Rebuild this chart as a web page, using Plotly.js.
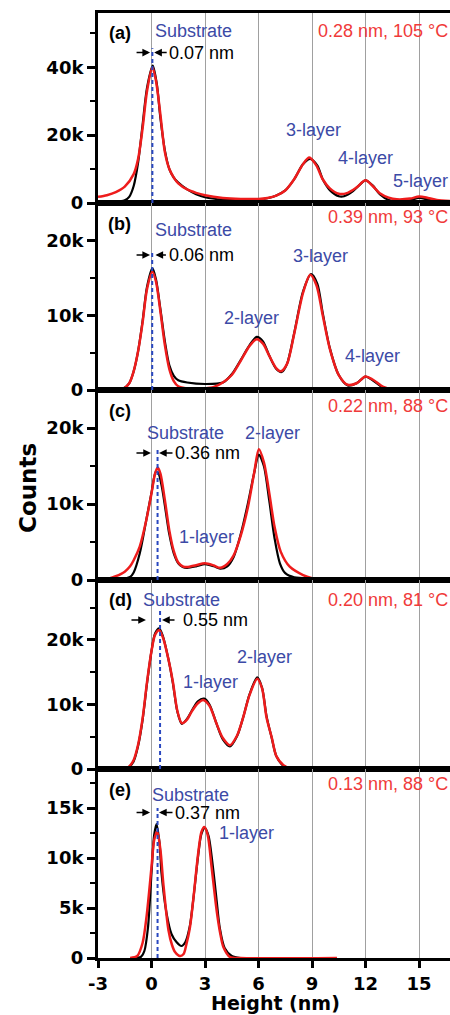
<!DOCTYPE html>
<html><head><meta charset="utf-8">
<script src="https://cdn.plot.ly/plotly-3.0.1.min.js"></script>
<style>html,body{margin:0;padding:0;overflow:hidden;background:#fff}#chart{width:452px;height:1015px}</style>
</head><body><div id="chart"></div>
<script>
// ---------------- DATA ----------------
// Panel (a)
const xA_meas = [-3,-2,-1.5,-1.25,-1,-0.75,-0.5,-0.25,0.07,0.3,0.5,0.75,1,1.25,1.5,2,2.5,3,4,5,6,6.5,7,7.5,8,8.5,8.9,9.3,9.6,10,10.5,10.8,11.3,11.7,12,12.4,12.8,13.3,14,14.5,15,15.5,16,16.8];
const yA_meas = [200,300,800,1800,5000,12000,23000,34000,40500,35000,25000,15500,10000,7500,6000,4000,2600,1700,1000,900,1000,1400,2200,3700,7000,11500,13000,11000,7000,3800,2000,2000,3500,5500,6700,5200,2600,900,500,800,1500,1000,300,100];
const xA_fit = [-3,-2.5,-2,-1.5,-1,-0.75,-0.5,-0.25,0.05,0.25,0.5,0.75,1,1.25,1.5,2,2.5,3,4,5,6,6.5,7,7.5,8,8.5,8.85,9.25,9.6,10,10.5,11,11.5,12,12.4,12.8,13.3,13.75,14.5,15,15.5,16,16.8];
const yA_fit = [1800,2300,3200,4800,8500,13000,22000,33000,40000,36000,26000,15000,10000,7500,5800,4000,3000,2300,1500,1200,1200,1500,2200,3700,7000,11500,13400,11000,7000,4300,2700,3000,4600,6700,5000,2900,1600,1100,1300,1900,1500,900,600];
// Panel (b)
const xB_meas = [-3,-2,-1.6,-1.25,-1,-0.75,-0.5,-0.25,0.05,0.25,0.5,0.75,1,1.25,1.5,2,3,4,4.5,5,5.5,5.9,6.25,6.6,7,7.3,7.6,8,8.5,8.95,9.3,9.6,10,10.5,11,11.5,12,12.4,13,13.5,14.5,15,15.5,16.8];
const yB_meas = [0,0,200,900,2500,5200,9200,13800,16300,14800,10800,6500,3300,1900,1300,1000,800,1000,2100,4000,6000,7100,6500,4600,2800,2400,3500,7600,13200,15500,14200,10300,5600,2000,600,900,1800,1300,300,100,0,200,100,0];
const xB_fit = [-3,-2,-1.5,-1.25,-1,-0.75,-0.5,-0.25,0.05,0.25,0.5,0.75,1,1.25,1.5,2,2.5,3,3.5,4,4.5,5,5.5,5.9,6.25,6.6,7,7.25,7.6,8,8.5,8.9,9.25,9.6,10,10.5,11,11.5,12,12.4,13,13.5,14,16.8];
const yB_fit = [0,0,300,900,2500,5200,9000,13500,15800,14500,10500,6000,2800,1200,500,200,150,200,400,1000,2000,3900,5900,6800,6200,4600,2900,2500,3500,7500,13000,15400,14000,10000,5500,2000,700,900,1800,1400,400,100,50,0];
// Panel (c)
const xC_meas = [-3,-2,-1.5,-1.2,-1,-0.66,-0.3,0,0.25,0.4,0.6,0.8,1,1.25,1.5,1.75,2,2.5,3,3.5,3.85,4.25,4.6,5,5.4,5.75,6.02,6.3,6.6,6.9,7.2,7.5,8,9,10,11,12,12.5];
const yC_meas = [0,0,200,400,1000,3500,7800,11500,14300,14000,12000,9000,6000,3500,2200,1700,1600,1800,2100,1800,1500,1800,3000,6000,10000,14000,16500,15000,10500,5500,2200,900,350,200,150,100,50,0];
const xC_fit = [-2.5,-2,-1.5,-1.2,-1,-0.66,-0.3,0,0.2,0.35,0.5,0.75,1,1.25,1.5,1.75,2,2.5,3,3.5,3.85,4.25,4.6,5,5.4,5.75,6.02,6.3,6.6,6.9,7.25,7.75,8.5,9,9.4];
const yC_fit = [100,500,1100,1800,2600,4400,7800,11400,14000,14800,14000,10500,6500,3800,2300,1800,1700,1950,2200,1900,1600,2100,3200,5800,9500,14000,17200,15500,11500,7000,3700,1750,650,250,100];
// Panel (d)
const xD_meas = [-3,-1.5,-1.25,-1,-0.75,-0.5,-0.25,0,0.2,0.43,0.65,0.95,1.2,1.45,1.7,2,2.25,2.6,2.95,3.25,3.65,4,4.4,4.8,5.14,5.5,5.93,6.2,6.45,6.75,7,7.4,7.8,8.5,15.9];
const yD_meas = [0,0,300,1200,3600,7600,13300,18300,21000,21800,20500,17000,13300,8900,7000,7800,9000,10500,10900,10000,7000,4600,3500,5100,8000,11600,14200,12600,8200,4700,2000,500,100,0,0];
const xD_fit = [-3,-1.5,-1.25,-1,-0.75,-0.5,-0.25,0,0.2,0.43,0.65,0.95,1.2,1.45,1.7,2,2.25,2.6,2.9,3.25,3.65,4,4.4,4.8,5.14,5.5,5.93,6.2,6.45,6.75,7,7.4,7.8,8.5,15.9];
const yD_fit = [0,0,400,1400,3800,7800,13500,18300,20800,21500,20300,17000,13500,9000,7100,7700,8900,10200,10700,9800,7000,4800,3700,5200,8000,11500,14000,12500,8000,4800,2000,600,100,0,0];
// Panel (e)
const xE_meas = [-1,-0.6,-0.4,-0.2,0,0.15,0.28,0.45,0.56,0.84,1.12,1.4,1.68,1.9,2.15,2.34,2.62,2.8,3.0,3.2,3.45,3.65,3.83,4.1,4.5,5];
const yE_meas = [0,100,700,3000,8500,12300,13400,11500,8500,4500,2400,1600,1200,1600,3200,5800,10300,12400,13000,12200,9000,5800,3000,1000,200,0];
const xE_fit = [-1.2,-0.8,-0.5,-0.28,0,0.15,0.32,0.5,0.66,0.95,1.15,1.32,1.6,1.8,1.96,2.15,2.34,2.62,2.8,2.96,3.15,3.37,3.65,3.85,4.03,4.4,5,10.4];
const yE_fit = [0,200,1500,4100,9100,11800,12650,10800,7500,2800,1300,600,200,400,1400,3000,5800,10500,12600,13100,12300,9100,4800,2500,1100,100,0,0];

// labels
const panelLabels = ['(a)','(b)','(c)','(d)','(e)'];
const fitLabels = ['0.28 nm, 105 °C','0.39 nm, 93 °C','0.22 nm, 88 °C','0.20 nm, 81 °C','0.13 nm, 88 °C'];
const offsetLabels = ['0.07 nm','0.06 nm','0.36 nm','0.55 nm','0.37 nm'];
const substratePos = [0.05, 0.04, 0.34, 0.48, 0.34];
const xTickVals = [-3,0,3,6,9,12,15];
const xTickText = ['-3','0','3','6','9','12','15'];

// ---------------- STYLE / LAYOUT ----------------
const FONT = 'Liberation Sans, Arial, sans-serif';
const TICKFONT = {family:'DejaVu Sans, sans-serif', size:18, color:'#000', weight:700};
const BLUE = '#3c4aa6';
const RED_TXT = '#f03a3a';
const RED = '#ee1c1c';

const meas = [[xA_meas,yA_meas],[xB_meas,yB_meas],[xC_meas,yC_meas],[xD_meas,yD_meas],[xE_meas,yE_meas]];
const fits = [[xA_fit,yA_fit],[xB_fit,yB_fit],[xC_fit,yC_fit],[xD_fit,yD_fit],[xE_fit,yE_fit]];

const panelCfg = [
  {dom:[755/945,1],          range:[0,56000], dtick:20000, minor:10000},
  {dom:[568/945,755/945],    range:[0,25000], dtick:10000, minor:5000},
  {dom:[378/945,568/945],    range:[0,25000], dtick:10000, minor:5000},
  {dom:[189/945,378/945],    range:[0,29300], dtick:10000, minor:5000},
  {dom:[0,189/945],          range:[0,18900], dtick:5000,  minor:2500}
];

const traces = [];
for (let i=0;i<5;i++){
  const ax = i===0?'':String(i+1);
  traces.push({x:meas[i][0], y:meas[i][1], xaxis:'x'+ax, yaxis:'y'+ax, type:'scatter', mode:'lines',
    line:{color:'#000', width:2.2, shape:'spline', smoothing:0.8}, hoverinfo:'skip', showlegend:false});
  traces.push({x:fits[i][0], y:fits[i][1], xaxis:'x'+ax, yaxis:'y'+ax, type:'scatter', mode:'lines',
    line:{color:RED, width:2.5, shape:'spline', smoothing:0.8}, hoverinfo:'skip', showlegend:false});
}

const layout = {
  width:452, height:1015,
  margin:{l:98, r:0, t:13, b:57},
  paper_bgcolor:'#fff', plot_bgcolor:'#fff',
  showlegend:false,
  font:{family:FONT, color:'#000'},
  annotations:[], shapes:[]
};

for (let i=0;i<5;i++){
  const ax = i===0?'':String(i+1);
  const c = panelCfg[i];
  layout['xaxis'+ax] = {
    domain:[0,1], range:[-3,16.85], anchor:'y'+ax, matches: i===0?undefined:'x',
    showline:true, mirror:true, linewidth:3, linecolor:'#000',
    showgrid:true, gridcolor:'#a0a0a0', gridwidth:1, zeroline:false,
    tickmode:'array', tickvals:xTickVals, ticktext:xTickText,
    ticks: i===4?'outside':'', ticklen:7, tickwidth:3, tickcolor:'#000',
    showticklabels: i===4, tickfont:TICKFONT
  };
  layout['yaxis'+ax] = {
    domain:c.dom, range:c.range, anchor:'x'+ax,
    showline:true, mirror:true, linewidth:3, linecolor:'#000',
    showgrid:false, zeroline:false,
    tick0:0, dtick:c.dtick, tickformat:'~s',
    ticks:'outside', ticklen:8, tickwidth:3, tickcolor:'#000',
    minor:{ticks:'outside', ticklen:5, tickwidth:2, tickcolor:'#000', dtick:c.minor, tick0:0, showgrid:false},
    tickfont:TICKFONT
  };
}

// annotation geometry per panel (data coords)
const ann = [
  {lab:[-1.79,50100], sub:[2.38,50700], off:[0.87,44350], fit:50700, dash:45600, arrL:-0.08, arrR:0.15, axL:-15, axR:14,
    layers:[['3-layer',9.08,21500,'center'],['4-layer',12.0,13260,'center'],['5-layer',13.45,6340,'left']]},
  {lab:[-1.79,22260], sub:[2.38,21400], off:[0.87,18050], fit:23100, dash:18700, arrL:-0.08, arrR:0.22, axL:-15, axR:12,
    layers:[['2-layer',5.61,9630,'center'],['3-layer',9.5,17850,'center'],['4-layer',12.39,4480,'center']]},
  {lab:[-1.79,22300], sub:[1.91,19280], off:[1.2,16710], fit:22830, dash:17400, arrL:-0.03, arrR:0.42, axL:-16, axR:15,
    layers:[['2-layer',6.76,19280,'center'],['1-layer',3.08,5660,'center']]},
  {lab:[-1.73,26200], sub:[1.68,26200], off:[1.65,23100], fit:26200, dash:24600, arrL:-0.31, arrR:0.59, axL:-16, axR:14,
    layers:[['2-layer',6.31,17440,'center'],['1-layer',3.31,13560,'center']]},
  {lab:[-1.77,16800], sub:[2.21,16350], off:[1.2,14550], fit:17450, dash:15000, arrL:-0.08, arrR:0.42, axL:-15, axR:15,
    layers:[['1-layer',5.33,12550,'center']]}
];

for (let i=0;i<5;i++){
  const ax = i===0?'':String(i+1);
  const a = ann[i];
  const X='x'+ax, Y='y'+ax;
  layout.annotations.push({xref:X, yref:Y, x:a.lab[0], y:a.lab[1], text:'<b>'+panelLabels[i]+'</b>', showarrow:false,
    font:{family:FONT, size:18, color:'#000'}, xanchor:'center', yanchor:'middle'});
  layout.annotations.push({xref:X, yref:Y, x:a.sub[0], y:a.sub[1], text:'Substrate', showarrow:false,
    font:{family:FONT, size:18, color:BLUE}, xanchor:'center', yanchor:'middle'});
  layout.annotations.push({xref:X, yref:Y, x:a.off[0], y:a.off[1], text:offsetLabels[i], showarrow:false,
    font:{family:FONT, size:18, color:'#000'}, xanchor:'left', yanchor:'middle'});
  layout.annotations.push({xref:X, yref:Y, x:16.75, y:a.fit, text:fitLabels[i], showarrow:false,
    font:{family:FONT, size:18, color:RED_TXT}, xanchor:'right', yanchor:'middle'});
  a.layers.forEach(l=>{
    layout.annotations.push({xref:X, yref:Y, x:l[1], y:l[2], text:l[0], showarrow:false,
      font:{family:FONT, size:18, color:BLUE}, xanchor:l[3], yanchor:'middle'});
  });
  // arrows
  layout.annotations.push({xref:X, yref:Y, x:a.arrL, y:a.off[1], text:'', showarrow:true, ax:a.axL, ay:0,
    arrowhead:2, arrowsize:1.1, arrowwidth:1.4, arrowcolor:'#000'});
  layout.annotations.push({xref:X, yref:Y, x:a.arrR, y:a.off[1], text:'', showarrow:true, ax:a.axR, ay:0,
    arrowhead:2, arrowsize:1.1, arrowwidth:1.4, arrowcolor:'#000'});
  // dashed substrate line
  layout.shapes.push({type:'line', xref:X, yref:Y, x0:substratePos[i], x1:substratePos[i], y0:0, y1:a.dash,
    line:{color:'#2a48c0', width:2, dash:'4px,3px'}});
}

// axis titles
layout.annotations.push({xref:'paper', yref:'paper', x:(275-98)/354, y:-(1003-958)/945, text:'<b>Height (nm)</b>',
  showarrow:false, font:{family:'DejaVu Sans, sans-serif', size:19, color:'#000'}, xanchor:'center', yanchor:'middle'});
layout.annotations.push({xref:'paper', yref:'paper', x:(28-98)/354, y:(958-488)/945, text:'<b>Counts</b>', textangle:-90,
  showarrow:false, font:{family:'DejaVu Sans, sans-serif', size:23, color:'#000'}, xanchor:'center', yanchor:'middle'});

Plotly.newPlot('chart', traces, layout, {staticPlot:true, displayModeBar:false});
</script>
</body></html>
